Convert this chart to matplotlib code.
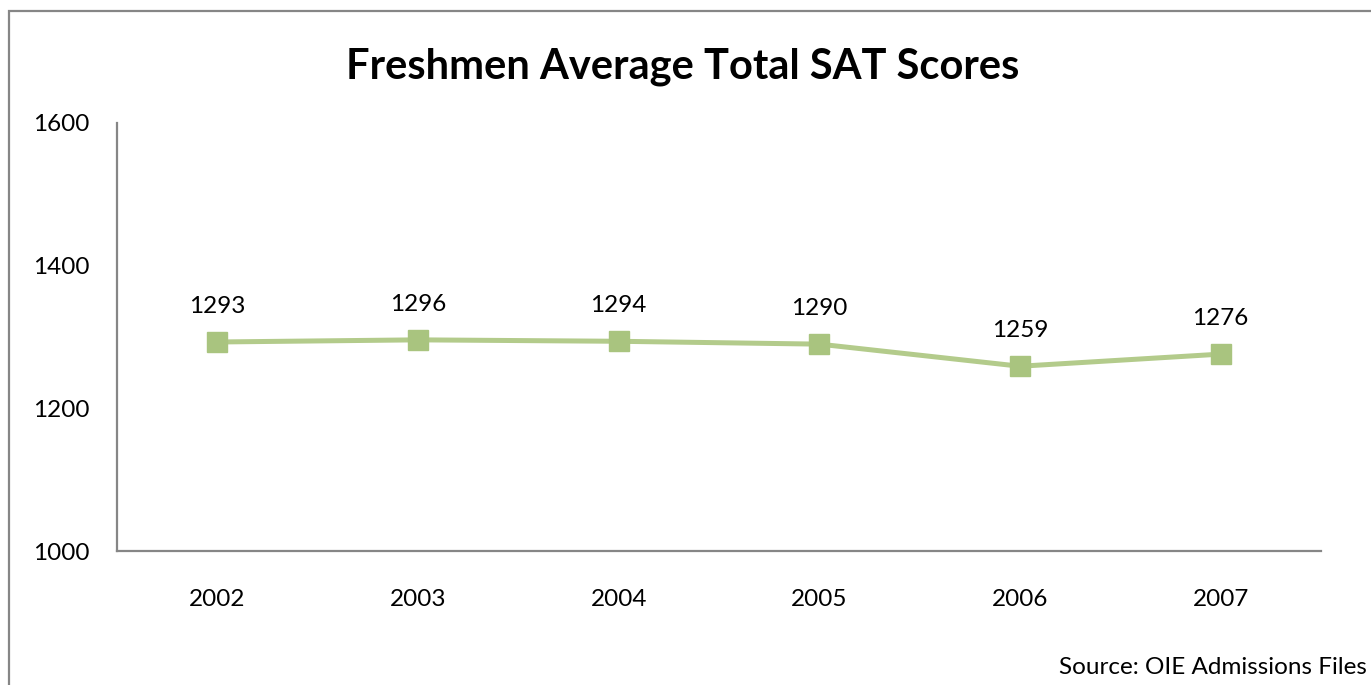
import matplotlib
matplotlib.use("Agg")
import matplotlib.pyplot as plt
from matplotlib.patches import Rectangle

years = ["2002", "2003", "2004", "2005", "2006", "2007"]
scores = [1293, 1296, 1294, 1290, 1259, 1276]
yticks = [1000, 1200, 1400, 1600]
title = "Freshmen Average Total SAT Scores"
source = "Source: OIE Admissions Files"

plt.rcParams['font.family'] = ['Lato', 'DejaVu Sans']

fig = plt.figure(figsize=(13.71, 6.85), dpi=100)
ax = fig.add_axes([117/1371, 1-551/685, (1321-117)/1371, (551-123)/685])

x = [i + 0.5 for i in range(len(years))]
ax.plot(x, scores, color='#B3CB8B', linewidth=3.6, marker='s', markersize=14,
        markerfacecolor='#A9C47F', markeredgecolor='#A9C47F', solid_joinstyle='round')
for xi, v in zip(x, scores):
    ax.annotate(str(v), (xi, v), xytext=(0, 25.5), textcoords='offset points',
                ha='center', va='center', fontsize=17.5, color='#000000')

ax.set_xlim(0, len(years))
ax.set_ylim(1000, 1600)
ax.set_yticks(yticks)
ax.set_yticklabels([str(t) for t in yticks], fontsize=17.5)
ax.set_xticks(x)
ax.set_xticklabels(years, fontsize=17.5)
ax.tick_params(axis='both', length=0)
ax.tick_params(axis='y', pad=19.5)
ax.tick_params(axis='x', pad=27)
for s in ['top', 'right']:
    ax.spines[s].set_visible(False)
for s in ['left', 'bottom']:
    ax.spines[s].set_color('#868686')
    ax.spines[s].set_linewidth(1.6)

fig.text(683/1371, 1-67/685, title, ha='center', va='center', fontsize=30, fontweight='bold')
fig.text(1367/1371, 1-668/685, source, ha='right', va='center', fontsize=17.5)

fig.patches.append(Rectangle((8.5/1371, -0.1), 1.2, 1.1 - 10.5/685,
                             transform=fig.transFigure, fill=False,
                             edgecolor='#868686', linewidth=1.6, figure=fig))

fig.savefig("out.png", dpi=100)
